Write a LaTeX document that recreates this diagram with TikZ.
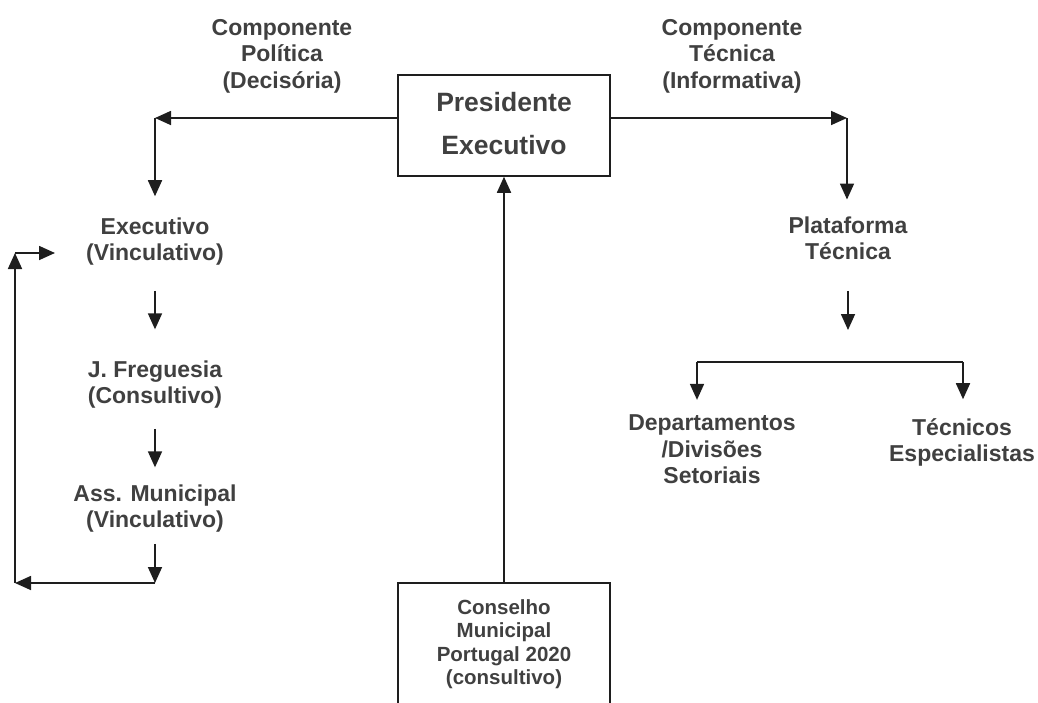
\documentclass[tikz,border=0pt]{standalone}
\usepackage{fontspec}
\setmainfont{Liberation Sans}
\usetikzlibrary{arrows.meta}
\definecolor{txtc}{HTML}{404040}
\definecolor{linec}{HTML}{1E1E1E}
\begin{document}
\begin{tikzpicture}[x=1pt,y=-1pt,
  lbl/.style={align=center,inner sep=0pt,text=txtc,font=\bfseries\fontsize{23}{26.5}\selectfont},
  small/.style={align=center,inner sep=0pt,text=txtc,font=\bfseries\fontsize{20.5}{23.5}\selectfont},
  big/.style={align=center,inner sep=0pt,text=txtc,font=\bfseries\fontsize{26.5}{43}\selectfont},
  arr/.style={draw=linec,line width=1.7pt,-{Triangle[length=16pt,width=14pt]}},
  plain/.style={draw=linec,line width=1.7pt},
  box/.style={draw=linec,line width=1.5pt,minimum width=212pt,inner sep=0pt}]
\useasboundingbox (0,0) rectangle (1038,702);

% boxes
\node[box,minimum height=101pt] (presbox) at (504,125.5) {};
\node[big] (pres) at (504,123.5) {Presidente\\Executivo};
\node[box,minimum height=150pt] (consbox) at (504,658) {};
\node[small] (cons) at (504,644) {Conselho\\Municipal\\Portugal 2020\\(consultivo)};

% labels
\node[lbl] (cpol) at (282,56) {Componente\\Política\\(Decisória)};
\node[lbl] (ctec) at (732,56) {Componente\\Técnica\\(Informativa)};
\node[lbl] (exec) at (155,241.4) {Executivo\\(Vinculativo)};
\node[lbl] (freg) at (155,384.7) {J. Freguesia\\(Consultivo)};
\node[lbl] (ass) at (155,508.7) {Ass. Municipal\\(Vinculativo)};
\node[lbl] (plat) at (848,238.4) {Plataforma\\Técnica};
\node[lbl] (dept) at (712,449.6) {Departamentos\\/Divisões\\Setoriais};
\node[lbl] (tec) at (962,442.5) {Técnicos\\Especialistas};

% corner coordinates
\coordinate (cl) at (155,118);
\coordinate (cr) at (847,118);
\coordinate (bl) at (155,583);
\coordinate (bll) at (15,583);
\coordinate (tll) at (15,253);
\coordinate (tlr) at (55,253);
\coordinate (pb) at (848,330);
\coordinate (bj) at (697,362);
\coordinate (bk) at (963,362);

% connectors
\draw[arr] ([yshift=7.5pt]presbox.west) -- (cl);
\draw[arr,shorten >=21pt] (cl) -- (cl |- exec.north);
\draw[arr] ([yshift=7.5pt]presbox.east) -- (cr);
\draw[arr,shorten >=17pt] (cr) -- (cr |- plat.north);
\draw[arr,shorten <=25.4pt,shorten >=31.2pt] (exec.south) -- (freg.north);
\draw[arr,shorten <=20pt,shorten >=17.2pt] (freg.south) -- (ass.north);
\draw[arr,shorten <=11pt] (ass.south) -- (bl);
\draw[arr] (bl) -- (bll);
\draw[arr] (bll) -- (tll);
\draw[arr] (tll) -- (tlr);
\draw[arr,shorten <=30.5pt] (plat.south) -- (pb);
\draw[plain] (bj) -- (bk);
\draw[arr,shorten >=15pt] (bj) -- (bj |- dept.north);
\draw[arr,shorten >=19pt] (bk) -- (bk |- tec.north);
\draw[arr] (consbox.north) -- (presbox.south);
\end{tikzpicture}
\end{document}
